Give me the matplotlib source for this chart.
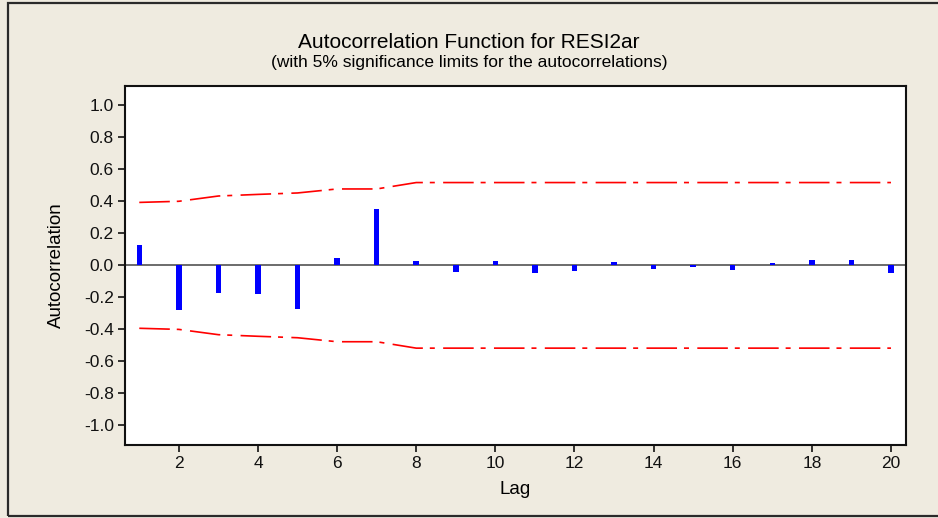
import matplotlib
matplotlib.use("Agg")
import matplotlib.pyplot as plt
from matplotlib.patches import Rectangle

# ─── Data ───────────────────────────────────────────────────────────────────
lags = list(range(1, 21))
acf = [0.125, -0.28, -0.175, -0.18, -0.275, 0.045, 0.35, 0.03,
       -0.04, 0.025, -0.05, -0.037, 0.022, -0.02, -0.008, -0.027,
       0.013, 0.034, 0.034, -0.045]
upper_limit = [0.393, 0.400, 0.433, 0.443, 0.452, 0.477, 0.477, 0.517,
               0.517, 0.517, 0.517, 0.517, 0.517, 0.517, 0.517, 0.517,
               0.517, 0.517, 0.517, 0.517]
lower_limit = [-v for v in upper_limit]
x_ticks = [2, 4, 6, 8, 10, 12, 14, 16, 18, 20]
y_ticks = [1.0, 0.8, 0.6, 0.4, 0.2, 0.0, -0.2, -0.4, -0.6, -0.8, -1.0]

bg = "#EFEBE0"
plt.rcParams["font.family"] = ["Liberation Sans", "DejaVu Sans"]
plt.rcParams["lines.scale_dashes"] = False

fig = plt.figure(figsize=(9.38, 5.18), dpi=100, facecolor=bg)
ax = fig.add_axes([0.1333, 0.1415, 0.8326, 0.6925])
ax.set_facecolor("white")

# outer frame of the graph window
fig.patches.append(Rectangle((8 / 938, 2.5 / 518), 1.0, 513 / 518,
                             transform=fig.transFigure, fill=False,
                             edgecolor="#2a2a2a", linewidth=1.6, clip_on=False))

# zero line, bars, significance limits
ax.axhline(0, color="#606060", linewidth=1.3, zorder=1)
ax.bar(lags, acf, width=0.14, color="#0000FF", zorder=2)
dash = (0, (22, 5, 3.6, 6))
ax.plot(lags, upper_limit, color="#FF0000", linewidth=1.2, linestyle=dash, zorder=3)
ax.plot(lags, lower_limit, color="#FF0000", linewidth=1.2, linestyle=dash, zorder=3)

ax.set_xlim(0.64, 20.38)
ax.set_ylim(-1.12, 1.12)
ax.set_xticks(x_ticks)
ax.set_yticks(y_ticks)
ax.set_yticklabels([f"{v:.1f}" for v in y_ticks])
ax.tick_params(direction="out", length=5, width=1.2, labelsize=12.5,
               colors="#111111", pad=3)
for s in ax.spines.values():
    s.set_linewidth(1.5)
    s.set_color("#111111")

ax.set_xlabel("Lag", fontsize=13.5, labelpad=7)
ax.set_ylabel("Autocorrelation", fontsize=13.5, labelpad=14)

fig.text(0.5, 1 - 42 / 518, "Autocorrelation Function for RESI2ar",
         ha="center", va="center", fontsize=15)
fig.text(0.5, 1 - 63 / 518, "(with 5% significance limits for the autocorrelations)",
         ha="center", va="center", fontsize=12.5)

fig.savefig("out.png", dpi=100, facecolor=bg)
